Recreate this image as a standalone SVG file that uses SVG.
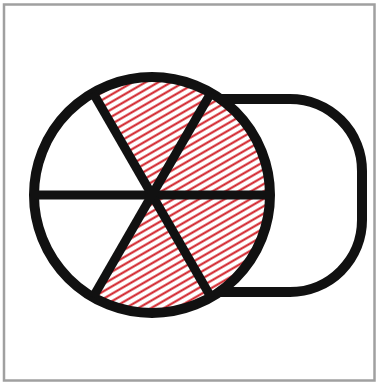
<svg xmlns="http://www.w3.org/2000/svg" width="377" height="383" viewBox="0 0 377 383">
<defs>
<pattern id="hatch" width="10" height="6.4" patternUnits="userSpaceOnUse" patternTransform="rotate(-30)">
<rect width="10" height="6.4" fill="#fff"/>
<line x1="0" y1="3.2" x2="10" y2="3.2" stroke="#d01a22" stroke-width="2"/>
</pattern>
</defs>
<style>
.k{fill:none;stroke:#111;stroke-width:10}
.s{stroke:#111;stroke-width:9}
</style>
<rect x="4" y="4.5" width="370.5" height="376" fill="#fff" stroke="#a0a0a0" stroke-width="2.5"/>
<g id="stadium">
<rect x="150" y="99" width="212" height="193" rx="72" ry="72" class="k"/>
</g>
<g id="circle">
<circle cx="152" cy="195" r="118" fill="#fff"/>
<path d="M152,195 L93,92.8 A118,118 0 1 1 93,297.2 Z" fill="url(#hatch)"/>
<circle cx="152" cy="195" r="118" class="k"/>
</g>
<g id="spokes">
<line x1="34" y1="195" x2="270" y2="195" class="s"/>
<line x1="93" y1="92.8" x2="211" y2="297.2" class="s"/>
<line x1="211" y1="92.8" x2="93" y2="297.2" class="s"/>
</g>
</svg>
